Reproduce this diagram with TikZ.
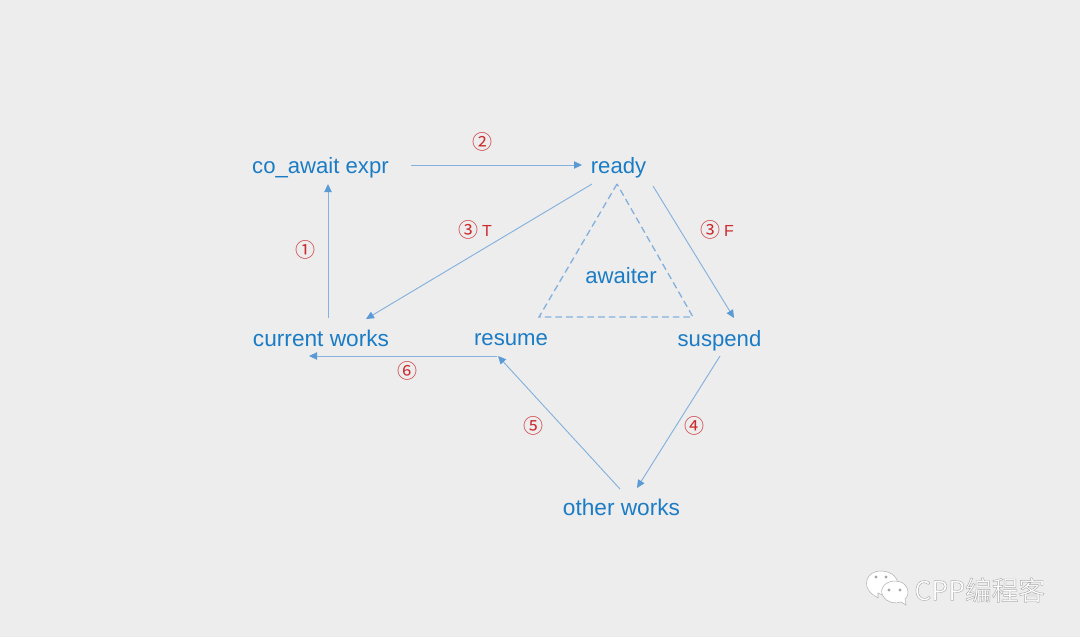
\documentclass[tikz,border=0pt]{standalone}
\usepackage{fontspec}
\setmainfont{Liberation Sans}
\newfontfamily\numfont{Noto Sans CJK SC}
\newfontfamily\cjkfont{Noto Sans CJK SC}
\usetikzlibrary{arrows.meta}
\definecolor{bgc}{HTML}{EDEDED}
\definecolor{txtblue}{HTML}{1B7CC6}
\definecolor{linkblue}{HTML}{84B1DE}
\definecolor{headblue}{HTML}{5B9BD5}
\definecolor{markred}{HTML}{CC2A2F}
\tikzset{
  x=0.75pt,y=-0.75pt,
  lbl/.style={inner sep=0pt,text=txtblue,font=\fontsize{16.6pt}{18pt}\selectfont,anchor=base},
  widelbl/.style={lbl,font=\fontsize{17pt}{18pt}\selectfont},
  num/.style={inner sep=0pt,text=markred,font=\numfont\fontsize{15pt}{17pt}\selectfont,anchor=center},
  tag/.style={inner sep=0pt,text=markred,font=\fontsize{12pt}{14pt}\selectfont,anchor=center},
  link/.style={draw=linkblue,line width=0.7pt,-{Triangle[length=6pt,width=5.5pt,color=headblue,fill=headblue]}},
  tri/.style={draw=linkblue,line width=1pt,dash pattern=on 5pt off 3pt},
  bubble/.style={fill=white,draw=black!30,line width=0.4pt},
}
\begin{document}
\begin{tikzpicture}
\path[fill=bgc] (0,0) rectangle (1080,637);
\useasboundingbox (0,0) rectangle (1080,637);
\node[lbl] (co) at (320.5,173) {co\_await expr};
\node[lbl] (ready) at (618.5,173) {ready};
\node[widelbl] (cur) at (321,346) {current works};
\node[lbl] (resume) at (511,345) {resume};
\node[lbl] (suspend) at (719.5,346) {suspend};
\node[widelbl] (other) at (621.5,515) {other works};
\node[lbl] (awaiter) at (621,283) {awaiter};
\coordinate (ta) at (617,184);
\coordinate (tl) at (539,317);
\coordinate (tr) at (693,317);
\draw[tri] (ta) -- (tl) -- (tr) -- cycle;
\draw[link] ([shift={(7,-28)}]cur.base) -- ([shift={(7.5,11)}]co.base);
\draw[link] ([shift={(90.5,-8)}]co.base) -- ([shift={(-36.5,-8)}]ready.base);
\draw[link] ([shift={(-26.5,11)}]ready.base) -- ([shift={(45,-27)}]cur.base);
\draw[link] ([shift={(34.5,13)}]ready.base) -- ([shift={(14.5,-28)}]suspend.base);
\draw[link] ([shift={(0.5,10)}]suspend.base) -- ([shift={(15.5,-27)}]other.base);
\draw[link] ([shift={(-1.5,-26)}]other.base) -- ([shift={(-13,11)}]resume.base);
\draw[link] ([shift={(-14,11)}]resume.base) -- ([shift={(-12,10)}]cur.base);
\node[num] (n1) at (305,250) {①};
\node[num] (n2) at (482,142) {②};
\node[num] (n3t) at (468,230) {③};
\node[tag] (t) at (487,231) {T};
\node[num] (n3f) at (710,230) {③};
\node[tag] (f) at (729,231) {F};
\node[num] (n4) at (694,426) {④};
\node[num] (n5) at (533,426) {⑤};
\node[num] (n6) at (407,371) {⑥};
% watermark
\draw[bubble] (878,598) -- (872,594) .. controls (862,586) and (866,571) .. (881,571) .. controls (893,571) and (900,580) .. (897,587) -- (885,596) -- (878,593) -- cycle;
\draw[bubble] (895,581) .. controls (884,581) and (879,590) .. (883,596) .. controls (887,603) and (896,604) .. (901,602) -- (906,605) -- (905,599) .. controls (911,594) and (908,581) .. (895,581) -- cycle;
\fill[black!35] (876,577) circle (1.6) (886,577) circle (1.6) (889,590) circle (1.6) (900,590) circle (1.6);
\node[inner sep=0pt,anchor=west,text=white,font=\cjkfont\fontsize{20pt}{22pt}\selectfont] (wm) at (914,590) {\special{pdf:code 2 Tr 0.35 w 0.68 G}CPP编程客\special{pdf:code 0 Tr 0 G}};
\end{tikzpicture}
\end{document}
